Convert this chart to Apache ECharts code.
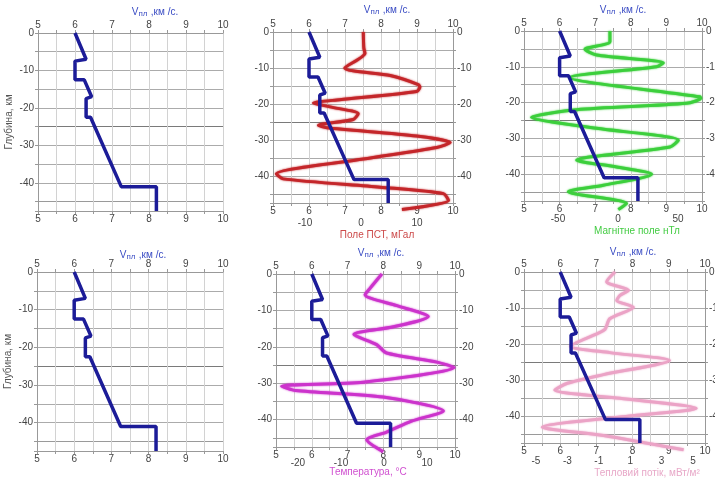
<!DOCTYPE html>
<html>
<head>
<meta charset="utf-8">
<script src="https://cdn.jsdelivr.net/npm/echarts@6/dist/echarts.min.js"></script>
<style>
html, body { margin: 0; padding: 0; background: #fff; }
#chart { width: 715px; height: 481px; }
</style>
</head>
<body>
<div id="chart"></div>
<script>
// Layer velocity profile (km/s) against depth (km), repeated in every panel
const velocityDepth = [0, 7, 7.5, 7.5, 12.5, 12.5, 17, 17.5, 17.5, 22.5, 22.5, 41, 41, 47.5];
const velocity      = [6.0, 6.3, 6.3, 6.0, 6.0, 6.25, 6.45, 6.45, 6.3, 6.3, 6.42, 7.25, 8.2, 8.2];

// Gravity anomaly, mGal
const gravityDepth = [0, 4.5, 5.9, 10.0, 12.1, 14.6, 15.3, 16.5, 18.8, 19.7, 20.8, 22.7, 24.3, 25.9, 26.6, 28.9, 30.7, 32.1, 35.3, 39.4, 40.8, 43.1, 44.9, 46.8, 49.3];
const gravity      = [0.4, 0.5, 0.7, -2.9, 5.2, 10.2, 10.5, 9.9, -3.8, -8.5, -5.5, -0.5, -1.4, -7.6, -6.1, 9.9, 15.9, 13.5, 0.4, -15.1, -13.9, 3.4, 14.7, 15.6, 7.3];

// Magnetic field, nT
const magneticDepth = [0, 3.0, 5.1, 6.7, 8.9, 10.0, 13.0, 18.4, 18.8, 20.2, 22.0, 24.1, 27.2, 30.5, 32.4, 36.1, 38.0, 40.0, 43.1, 44.9, 48.2, 49.9];
const magnetic      = [-6.7, -6.7, -27.5, -17.8, 37.8, 32.2, -40, 68.3, 69, 57, -34.4, -72, -17.8, 50.3, 43.3, -34.4, -1.1, 28, -12.2, -41.4, 7.2, 0.3];

// Temperature, °C
const temperatureDepth = [0, 4.0, 5.7, 8.7, 11.7, 14.5, 16.6, 19.4, 21.7, 24.2, 25.7, 29.7, 30.8, 32.0, 33.8, 37.6, 40.4, 43.4, 45.5, 48.8];
const temperature      = [-0.5, -3.3, -4.4, 3.0, 10.3, 2.2, -7.0, -1.7, 0.6, 12.3, 16.3, -4.8, -23.8, -20.5, -0.2, 13.8, 6.4, 0.6, -4.0, -0.2];

// Heat flow, mW/m²
const heatFlowDepth = [0, 2.7, 5.1, 6.5, 7.9, 9.8, 13.0, 15.9, 17.1, 20.6, 22.4, 24.6, 28.5, 30.9, 32.8, 35.1, 37.9, 39.8, 43.1, 45.4, 49.4];
const heatFlow      = [0.03, -0.5, 0.9, 0.35, 0.14, 1.2, -0.3, -0.6, -1.1, -2.8, -0.3, 3.5, -0.7, -3.0, -3.8, 0.35, 5.2, 1.4, -4.6, -0.7, 4.4];

// Tick labels of the secondary scales
const gravityTicks = [-10, 0, 10];
const magneticTicks = [-50, 0, 50];
const temperatureTicks = [-20, -10, 0, 10];
const heatFlowTicks = [-5, -3, -1, 1, 3, 5];

const FONT = '"Liberation Sans", Arial, sans-serif';
const tickText = { color: '#444', fontSize: 10, fontFamily: FONT };

function zip(xs, ys) { return xs.map((x, i) => [x, ys[i]]); }

const panels = [
  { box: [38, 33, 185, 178], title: [155, 12], depthName: true },
  { box: [273, 32, 180, 171], title: [387, 10], right: true,
    extra: { min: -15.7, max: 16.4, ticks: gravityTicks, offset: 12, color: '#c4262a',
             name: 'Поле ПСТ, мГал', nameAt: [377, 235], nameColor: '#cc4a4a',
             data: zip(gravity, gravityDepth) } },
  { box: [524, 31, 178, 170], title: [623, 10], right: true,
    extra: { min: -78.3, max: 70, ticks: magneticTicks, offset: 10, color: '#3ccf3c',
             name: 'Магнітне поле нТл', nameAt: [637, 231], nameColor: '#44cc44',
             data: zip(magnetic, magneticDepth) } },
  { box: [37, 272, 186, 179], title: [143, 255], depthName: true },
  { box: [276, 274, 179, 173], title: [381, 253], right: true,
    extra: { min: -25.1, max: 16.5, ticks: temperatureTicks, offset: 8, color: '#cc33cc',
             name: 'Температура, °C', nameAt: [368, 472], nameColor: '#d050d0',
             data: zip(temperature, temperatureDepth) } },
  { box: [524, 272, 181, 171], title: [633, 252], right: true,
    extra: { min: -5.76, max: 5.76, ticks: heatFlowTicks, offset: 10, color: '#eba3c6',
             name: 'Тепловий потік, мВт/м²', nameAt: [647, 473], nameColor: '#e8a8c8',
             data: zip(heatFlow, heatFlowDepth) } }
];

const depthFmt = v => (v % 10 === 0 ? (v === 0 ? '0' : '-' + v) : '');
const velFmt = v => (Number.isInteger(v) ? String(v) : '');
const frameLine = { show: true, onZero: false, lineStyle: { color: '#999' } };
// horizontal grid: every 5 km, the 25 km line drawn darker
const depthGridColors = ['#ababab', '#ababab', '#ababab', '#ababab', '#ababab', '#7a7a7a',
                         '#ababab', '#ababab', '#ababab', '#9a9a9a', '#ababab'];

const option = {
  animation: false,
  backgroundColor: '#fff',
  grid: [], xAxis: [], yAxis: [], series: [], graphic: []
};

panels.forEach((p, i) => {
  option.grid.push({ left: p.box[0], top: p.box[1], width: p.box[2], height: p.box[3],
                     containLabel: false, outerBoundsMode: 'none' });

  // velocity scale on top (with vertical grid) and bottom
  const topX = option.xAxis.length;
  option.xAxis.push({
    type: 'value', gridIndex: i, position: 'top', min: 5, max: 10, interval: 0.5,
    axisLine: frameLine,
    axisTick: { show: true, length: 3, lineStyle: { color: '#999' } },
    axisLabel: Object.assign({ margin: 3, formatter: velFmt, showMinLabel: true, showMaxLabel: true }, tickText),
    splitLine: { show: true, lineStyle: { color: '#d2d2d2', width: 1 } }
  });
  option.xAxis.push({
    type: 'value', gridIndex: i, position: 'bottom', min: 5, max: 10, interval: 0.5,
    axisLine: frameLine,
    axisTick: { show: true, length: 3, lineStyle: { color: '#999' } },
    axisLabel: Object.assign({ margin: 3, formatter: velFmt, showMinLabel: true, showMaxLabel: true }, tickText),
    splitLine: { show: false }
  });

  // depth scale
  const leftY = option.yAxis.length;
  option.yAxis.push({
    type: 'value', gridIndex: i, position: 'left', min: 0, max: 47.5, interval: 5, inverse: true,
    name: p.depthName ? 'Глубина, км' : '', nameLocation: 'middle', nameGap: 24, nameRotate: 90,
    nameTextStyle: { color: '#555', fontSize: 10, fontFamily: FONT },
    axisLine: frameLine,
    axisTick: { show: true, length: 3, lineStyle: { color: '#999' } },
    axisLabel: Object.assign({ margin: 4, formatter: depthFmt, showMinLabel: true }, tickText),
    splitLine: { show: true, lineStyle: { color: depthGridColors, width: 1 } }
  });
  if (p.right) {
    option.yAxis.push({
      type: 'value', gridIndex: i, position: 'right', min: 0, max: 47.5, interval: 5, inverse: true,
      axisLine: frameLine,
      axisTick: { show: true, length: 3, lineStyle: { color: '#999' } },
      axisLabel: Object.assign({ margin: 4, formatter: depthFmt, showMinLabel: true }, tickText),
      splitLine: { show: false }
    });
  }

  if (p.extra) {
    const e = p.extra;
    const exX = option.xAxis.length;
    option.xAxis.push({
      type: 'value', gridIndex: i, position: 'bottom', offset: e.offset, min: e.min, max: e.max,
      axisLine: { show: false, onZero: false }, axisTick: { show: false },
      axisLabel: Object.assign({ margin: 3, customValues: e.ticks }, tickText),
      splitLine: { show: false }
    });
    option.series.push({
      type: 'line', xAxisIndex: exX, yAxisIndex: leftY, data: e.data,
      showSymbol: false, clip: false, smooth: 0.25, z: 3,
      lineStyle: { color: e.color, width: 3, shadowColor: e.color, shadowBlur: 2 }
    });
    option.graphic.push({
      type: 'text', x: e.nameAt[0], y: e.nameAt[1],
      style: { text: e.name, align: 'center', verticalAlign: 'middle',
               fill: e.nameColor, fontSize: 10, fontFamily: FONT }
    });
  }

  option.series.push({
    type: 'line', xAxisIndex: topX, yAxisIndex: leftY, data: zip(velocity, velocityDepth),
    showSymbol: false, clip: false, z: 4,
    lineStyle: { color: '#1c1c98', width: 3.5 }
  });

  option.graphic.push({
    type: 'text', x: p.title[0], y: p.title[1],
    style: {
      text: '{v|V}{s|пл} {v|,км /с.}', align: 'center', verticalAlign: 'middle',
      rich: {
        v: { fill: '#3a4cc4', fontSize: 10, fontFamily: FONT },
        s: { fill: '#3a4cc4', fontSize: 8, fontFamily: FONT, padding: [4, 0, 0, 0] }
      }
    }
  });
});

const chart = echarts.init(document.getElementById('chart'), null, { renderer: 'canvas' });
chart.setOption(option);
</script>
</body>
</html>
